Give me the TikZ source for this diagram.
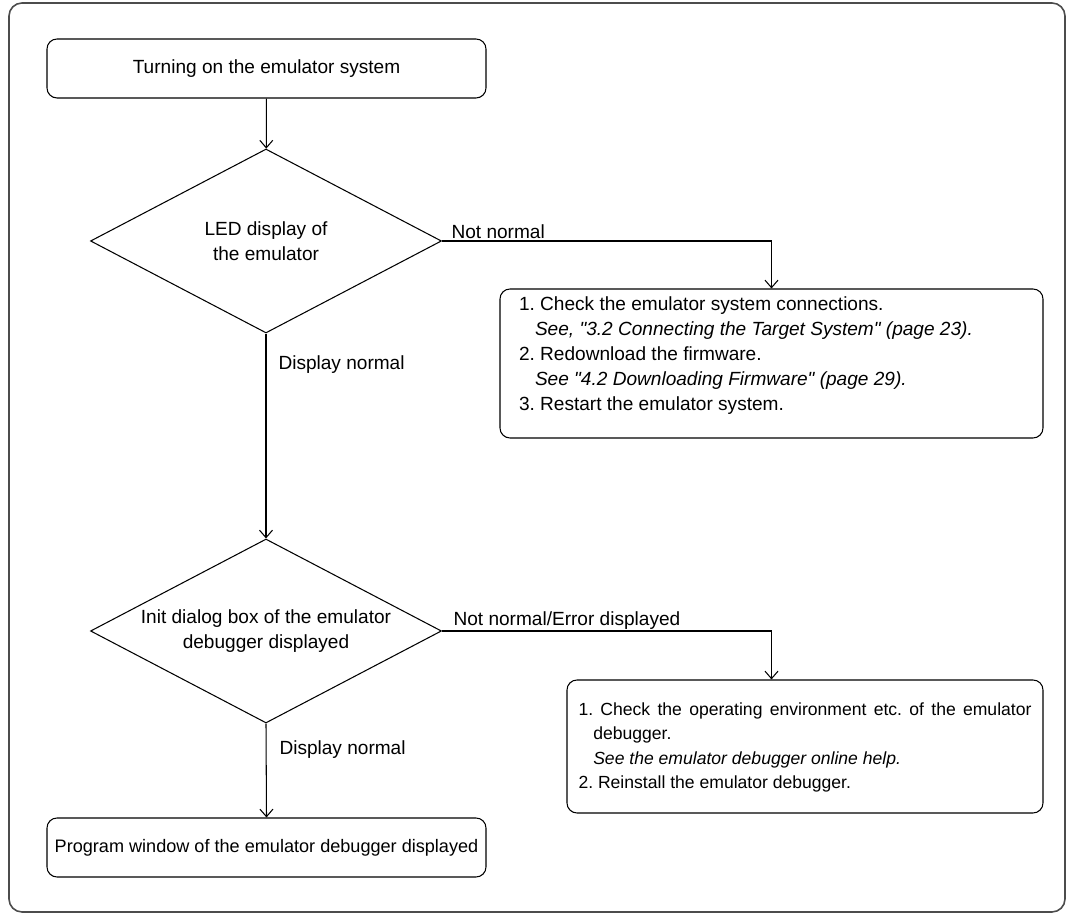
\documentclass[tikz,border=0pt]{standalone}
\usepackage{fontspec}
\setmainfont{Liberation Sans}[Ligatures=TeXOff]
\usetikzlibrary{arrows.meta,positioning,calc,shapes.geometric}
\frenchspacing

%% numbered step with hanging continuation lines
\newcommand{\stepline}[2]{\hangindent=0.84em\hangafter=1\noindent #1 #2\par}

\tikzset{
  framebox/.style={draw=black!70,line width=0.9pt,rounded corners=0.26cm},
  flowbox/.style={draw,line width=0.6pt,rounded corners=0.2cm,
       minimum width=8.78cm,minimum height=1.18cm,
       font=\fontsize{10.85}{14.2}\selectfont},
  decision/.style={draw,diamond,aspect=1.9,inner sep=0pt,line width=0.6pt,
       minimum width=7.02cm,minimum height=3.68cm,align=center,
       font=\fontsize{10.85}{14.2}\selectfont},
  notebox/.style={draw,line width=0.6pt,rounded corners=0.2cm,align=justify,
       inner ysep=0pt},
  flow/.style={-{Straight Barb[length=1.5mm,width=2.6mm]},line width=0.6pt},
  branchlbl/.style={inner sep=0pt,font=\fontsize{10.85}{14.2}\selectfont}
}

\begin{document}
\begin{tikzpicture}
  \useasboundingbox (0,0) rectangle (21.32,18.30);
  %% outer frame
  \draw[framebox] (0.18,0.06) rectangle (21.30,18.24);
  %% main column
  \node[flowbox] (start) at (5.33,16.93) {Turning on the emulator system};
  \node[decision] (led) at (5.32,13.48) {LED display of\\the emulator};
  \node[decision] (initdlg) at (5.32,5.68)
       {Init dialog box of the emulator\\debugger displayed};
  \node[flowbox,inner xsep=1pt,font=\fontsize{10.3}{14.2}\selectfont]
       (progwin) at (5.33,1.35)
       {Program window of the emulator debugger displayed};
  %% remedy boxes
  \node[notebox,text width=10.10cm,inner xsep=0.38cm,
        text height=0.44cm,text depth=2.54cm,
        font=\fontsize{10.85}{14.2}\selectfont]
       (checkA) at (15.43,11.03) {%
    \stepline{1.}{Check the emulator system connections.\newline
      \textit{See, "3.2 Connecting the Target System" (page 23).}}
    \stepline{2.}{Redownload the firmware.\newline
      \textit{See "4.2 Downloading Firmware" (page 29).}}
    \stepline{3.}{Restart the emulator system.}};
  \node[notebox,text width=9.06cm,inner xsep=0.23cm,
        text height=0.72cm,text depth=1.94cm,
        font=\fontsize{10}{13.66}\selectfont]
       (checkB) at (16.10,3.37) {%
    \hyphenpenalty=10000
    \stepline{1.}{Check the operating environment etc. of the emulator
      debugger.\newline
      \textit{See the emulator debugger online help.}}
    \stepline{2.}{Reinstall the emulator debugger.}};
  %% connectors
  \draw[flow] (start) -- (led);
  \draw[flow] (led.east) -| node[branchlbl,pos=0,anchor=base west,
       xshift=0.18cm,yshift=0.05cm]{Not normal} (checkA.north);
  \draw[flow] (led.south) -- node[branchlbl,pos=0,anchor=base west,
       xshift=0.24cm,yshift=-0.72cm]{Display normal} (initdlg.north);
  \draw[flow] (initdlg.east) -| node[branchlbl,pos=0,anchor=base west,
       xshift=0.22cm,yshift=0.11cm]{Not normal/Error displayed}
       (checkA.north |- checkB.north);
  \draw[flow] (initdlg.south) -- node[branchlbl,pos=0,anchor=base west,
       xshift=0.26cm,yshift=-0.62cm]{Display normal} (progwin.north);
\end{tikzpicture}
\end{document}
